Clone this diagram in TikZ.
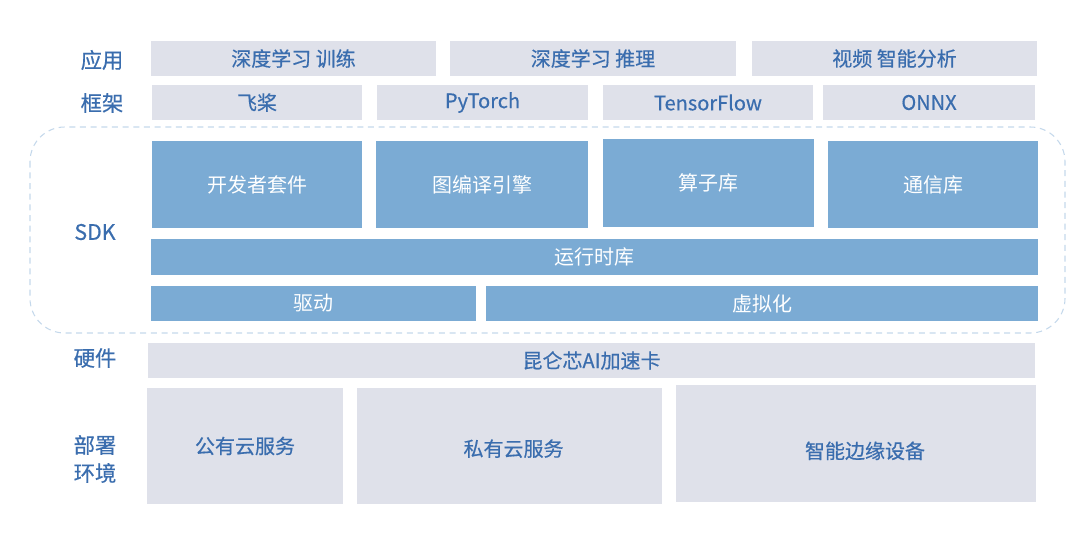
\documentclass[tikz,border=0pt]{standalone}
\usepackage{fontspec}
\setmainfont{Noto Sans CJK SC}
\newfontfamily\medfont[FakeBold=0.5]{Noto Sans CJK SC}
\definecolor{gfill}{HTML}{DFE1EA}
\definecolor{bfill}{HTML}{7BABD4}
\definecolor{tblue}{HTML}{3A6DAE}
\definecolor{dline}{HTML}{C4D8EB}
\tikzset{
  base/.style={inner sep=0pt, outer sep=0pt, anchor=center},
  gbox/.style={base, fill=gfill, text=tblue, font=\medfont\fontsize{15}{18}\selectfont},
  bbox/.style={base, fill=bfill, text=white, font=\fontsize{15}{18}\selectfont},
  lab/.style={base, text=tblue, align=center, font=\medfont\fontsize{16}{21}\selectfont},
  frame/.style={draw=dline, line width=0.8pt, dash pattern=on 4.5pt off 3.5pt, rounded corners=26pt}
}
% \bx{style}{name}{x1}{y1}{x2}{y2}{text}
\newcommand\bx[7]{%
  \pgfmathsetmacro\bw{(#5-#3)*0.75}%
  \pgfmathsetmacro\bh{(#6-#4)*0.75}%
  \node[#1, minimum width=\bw pt, minimum height=\bh pt] (#2) at ({(#3+#5)/2},{(#4+#6)/2}) {#7};}
% \shifted{right}{down}{text}
\newcommand\shifted[3]{\hspace*{#1}\hspace*{#1}\raisebox{-#2}[\height][\depth]{#3}}
\begin{document}
\begin{tikzpicture}[x=0.75pt,y=-0.75pt]
\useasboundingbox (0,0) rectangle (1080,544);
% dashed SDK frame
\draw[frame] (30,127) rectangle (1065,333);
% row labels
\node[lab] (l1) at (102,60) {应用};
\node[lab] (l2) at (102,103) {框架};
\node[lab] (l3) at (95,232) {SDK};
\node[lab] (l4) at (95,358) {硬件};
\node[lab] (l5) at (95,459) {部署\\环境};
% application row
\bx{gbox}{a1}{151}{41}{436}{76}{深度学习 训练}
\bx{gbox}{a2}{450}{41}{736}{76}{深度学习 推理}
\bx{gbox}{a3}{752}{41}{1037}{76}{视频 智能分析}
% framework row
\bx{gbox}{f1}{152}{85}{362}{120}{飞桨}
\bx{gbox}{f2}{377}{85}{588}{120}{PyTorch}
\bx{gbox}{f3}{603}{85}{813}{120}{TensorFlow}
\bx{gbox}{f4}{823}{85}{1035}{120}{ONNX}
% SDK
\bx{bbox}{s1}{152}{141}{362}{228}{开发者套件}
\bx{bbox}{s2}{376}{141}{588}{228}{图编译引擎}
\bx{bbox}{s3}{603}{139}{814}{227}{算子库}
\bx{bbox}{s4}{828}{141}{1038}{228}{通信库}
\bx{bbox}{rt}{151}{239}{1038}{275}{运行时库}
\bx{bbox}{drv}{151}{286}{476}{321}{驱动}
\bx{bbox}{virt}{486}{286}{1038}{321}{虚拟化}
% hardware
\bx{gbox}{hw}{148}{343}{1035}{378}{昆仑芯AI加速卡}
% deployment
\bx{gbox}{d1}{147}{388}{343}{504}{公有云服务}
\bx{gbox}{d2}{357}{388}{662}{504}{\shifted{3pt}{2pt}{私有云服务}}
\bx{gbox}{d3}{676}{385}{1036}{502}{\shifted{6.75pt}{5.5pt}{智能边缘设备}}
\end{tikzpicture}
\end{document}
